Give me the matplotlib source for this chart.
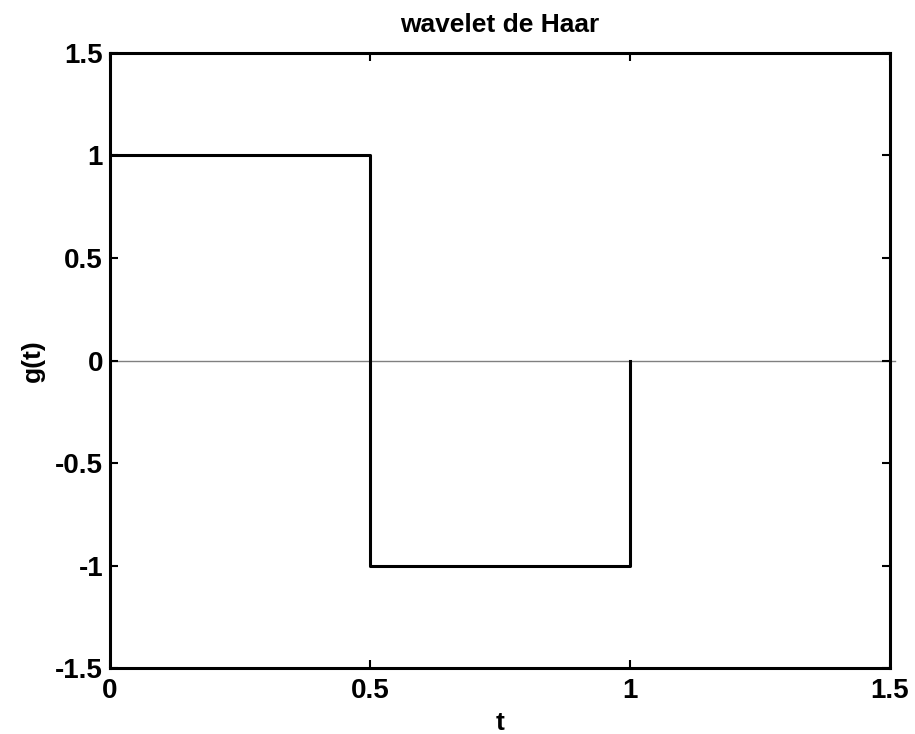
import matplotlib
matplotlib.use("Agg")
import matplotlib.pyplot as plt

t = [0.0, 0.5, 0.5, 1.0, 1.0]
g = [1.0, 1.0, -1.0, -1.0, 0.0]
xticks = [0, 0.5, 1, 1.5]
yticks = [-1.5, -1, -0.5, 0, 0.5, 1, 1.5]
ytick_labels = ["-1.5", "-1", "-0.5", "0", "0.5", "1", "1.5"]
xtick_labels = ["0", "0.5", "1", "1.5"]

plt.rcParams['font.family'] = ['Liberation Sans', 'DejaVu Sans']
plt.rcParams['font.weight'] = 'bold'

fig = plt.figure(figsize=(9.15, 7.34), dpi=100)
ax = fig.add_axes([0.1202, 0.0899, 0.8525, 0.8379])

ax.plot([0, 1.51], [0, 0], color='#808080', lw=1.0, clip_on=False, zorder=1)
ax.plot(t, g, color='black', lw=2.2, zorder=2)

ax.set_xlim(0, 1.5)
ax.set_ylim(-1.5, 1.5)
ax.set_xticks(xticks)
ax.set_xticklabels(xtick_labels)
ax.set_yticks(yticks)
ax.set_yticklabels(ytick_labels)
ax.tick_params(direction='in', length=6, width=1.5, top=True, right=True,
               labelsize=20)
ax.tick_params(axis='y', pad=5)
ax.tick_params(axis='x', pad=7)
for lbl in ax.get_xticklabels() + ax.get_yticklabels():
    lbl.set_fontweight('bold')
for s in ax.spines.values():
    s.set_linewidth(2.2)

ax.set_title("wavelet de Haar", fontsize=19, fontweight='bold', pad=15)
ax.set_xlabel("t", fontsize=19, fontweight='bold', labelpad=5)
ax.set_ylabel("g(t)", fontsize=19, fontweight='bold', labelpad=7)

fig.savefig("out.png", dpi=100)
